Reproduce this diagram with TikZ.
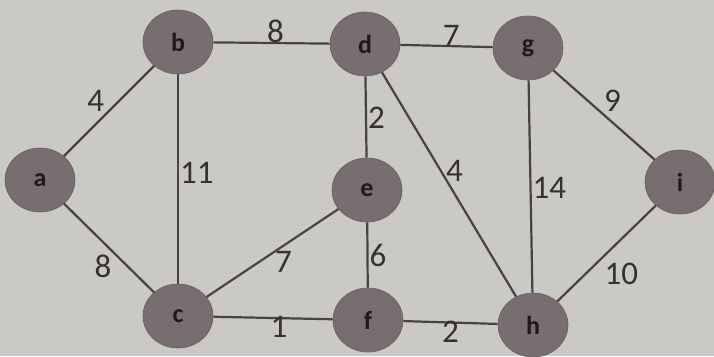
\documentclass[tikz,border=0pt]{standalone}
\usepackage{fontspec}
\setmainfont{Carlito}
\usetikzlibrary{shapes.geometric}
\definecolor{bgc}{RGB}{203,201,198}
\definecolor{nodec}{RGB}{120,110,112}
\definecolor{edgec}{RGB}{72,66,68}
\definecolor{txtc}{RGB}{30,26,26}
\tikzset{
  vert/.style={ellipse, fill=nodec, draw=nodec!85!black, line width=0.6pt, minimum width=70pt, minimum height=64pt, inner sep=0pt, text=txtc, font=\fontsize{26}{28}\selectfont\bfseries},
  edge/.style={draw=edgec, line width=2.2pt},
  wt/.style={inner sep=1pt, text=txtc!90!white, font=\fontsize{33}{35}\selectfont}
}
\begin{document}
\begin{tikzpicture}[x=1pt,y=-1pt]
\fill[bgc] (0,0) rectangle (714,356);
\useasboundingbox (0,0) rectangle (714,356);
\node[vert] (a) at (40,180) {a};
\node[vert] (b) at (178,42) {b};
\node[vert] (d) at (365,44) {d};
\node[vert] (g) at (528,48) {g};
\node[vert] (i) at (680,182) {i};
\node[vert] (e) at (367,190) {e};
\node[vert] (c) at (178,316) {c};
\node[vert] (f) at (368,320) {f};
\node[vert] (h) at (533,325) {h};
\path[edge] (a) -- node[wt, pos=0.47, above left=0pt] {4} (b);
\path[edge] (b) -- node[wt, pos=0.535, above=-2pt] {8} (d);
\path[edge] (d) -- node[wt, pos=0.55, above=-2pt] {7} (g);
\path[edge] (g) -- node[wt, pos=0.48, above right=0pt] {9} (i);
\path[edge] (b) -- node[wt, pos=0.47, right=0pt] {11} (c);
\path[edge] (d) -- node[wt, pos=0.51, right=0pt] {2} (e);
\path[edge] (d) -- node[wt, pos=0.44, right=3pt] {4} (h);
\path[edge] (g) -- node[wt, pos=0.505, right=0pt] {14} (h);
\path[edge] (c) -- node[wt, pos=0.52, below right=-2pt] {7} (e);
\path[edge] (e) -- node[wt, pos=0.5, right=0pt] {6} (f);
\path[edge] (a) -- node[wt, pos=0.55, below left=0pt] {8} (c);
\path[edge] (c) -- node[wt, pos=0.55, below=-4pt] {1} (f);
\path[edge] (f) -- node[wt, pos=0.5, below=-4pt] {2} (h);
\path[edge] (h) -- node[wt, pos=0.44, below right=2pt] {10} (i);
\end{tikzpicture}
\end{document}
